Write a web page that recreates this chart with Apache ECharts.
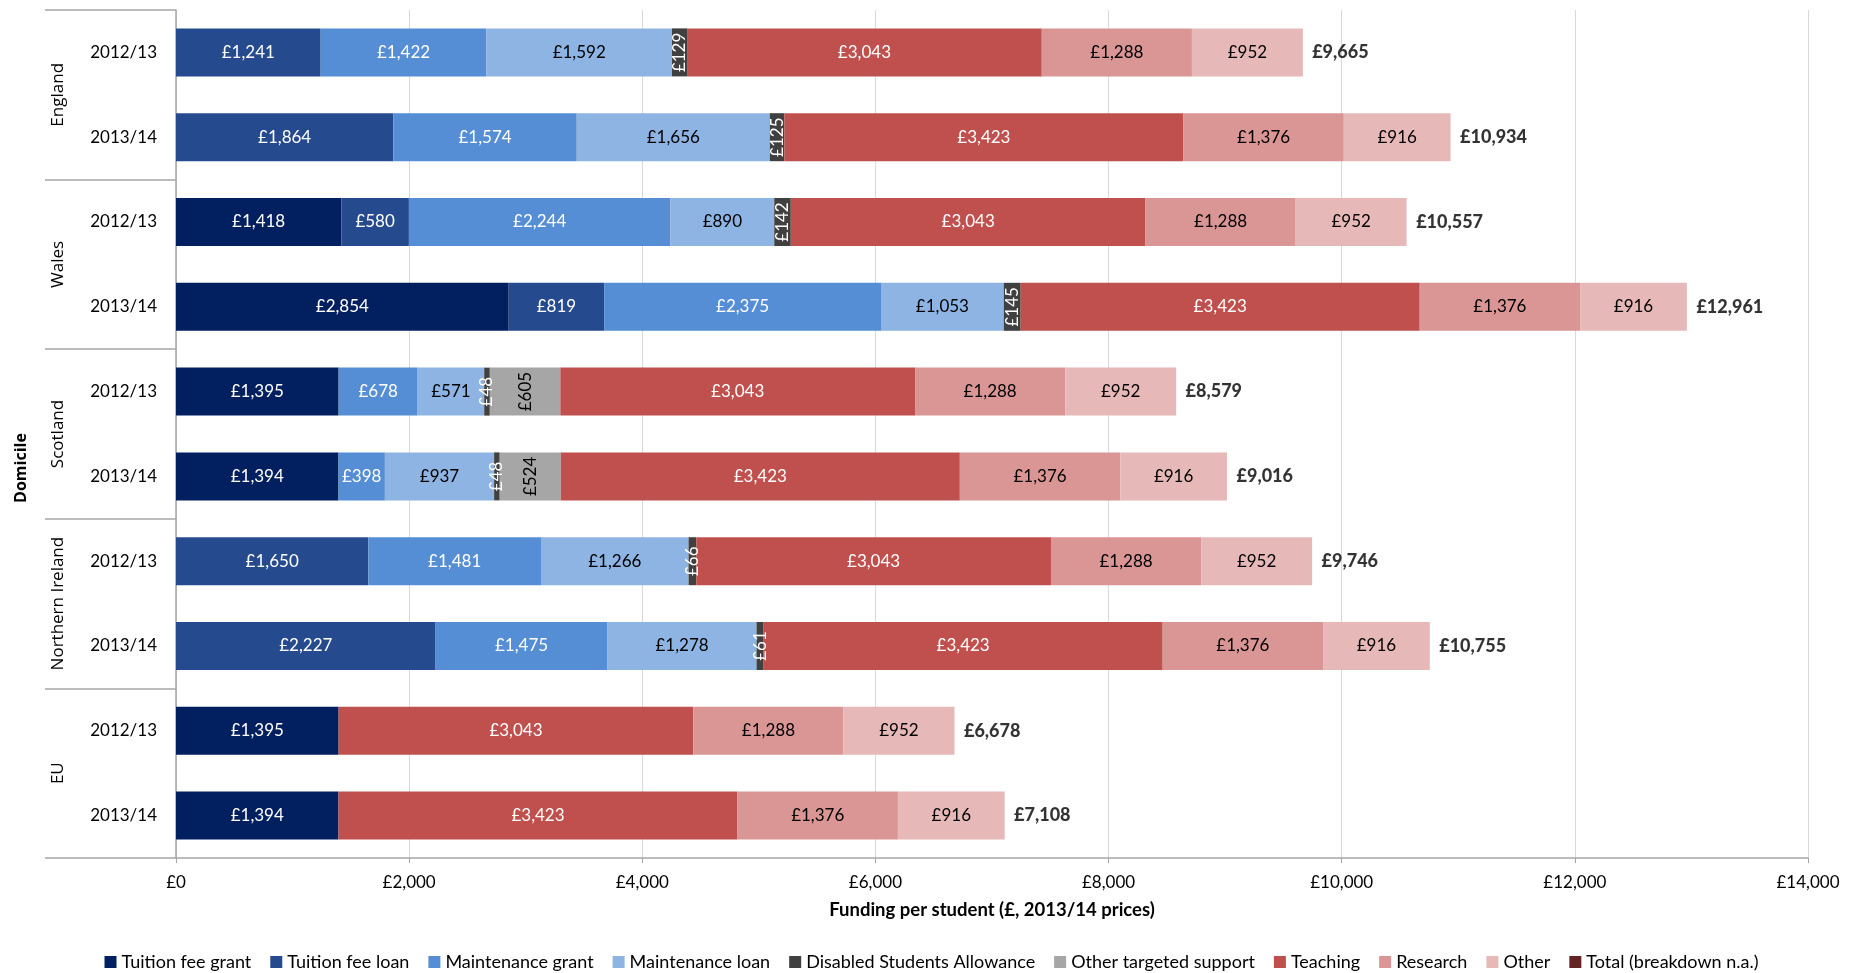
<!DOCTYPE html>
<html>
<head>
<meta charset="utf-8">
<title>Funding per student by domicile</title>
<script src="https://cdn.jsdelivr.net/npm/echarts@6/dist/echarts.min.js"></script>
<style>
  html, body { margin: 0; padding: 0; background: #ffffff; }
  #chart { width: 1863px; height: 973px; }
</style>
</head>
<body>
<div id="chart"></div>
<script>
// Rows run top to bottom: each domicile has a 2012/13 and a 2013/14 bar.
const domiciles = ['England', 'Wales', 'Scotland', 'Northern Ireland', 'EU'];
const years = ['2012/13', '2013/14'];

// Funding components per student (£, 2013/14 prices), one value per row.
const tuitionFeeGrant      = [null, null, 1418, 2854, 1395, 1394, null, null, 1395, 1394];
const tuitionFeeLoan       = [1241, 1864, 580, 819, null, null, 1650, 2227, null, null];
const maintenanceGrant     = [1422, 1574, 2244, 2375, 678, 398, 1481, 1475, null, null];
const maintenanceLoan      = [1592, 1656, 890, 1053, 571, 937, 1266, 1278, null, null];
const disabledStudents     = [129, 125, 142, 145, 48, 48, 66, 61, null, null];
const otherTargeted        = [null, null, null, null, 605, 524, null, null, null, null];
const teaching             = [3043, 3423, 3043, 3423, 3043, 3423, 3043, 3423, 3043, 3423];
const research             = [1288, 1376, 1288, 1376, 1288, 1376, 1288, 1376, 1288, 1376];
const otherFunding         = [952, 916, 952, 916, 952, 916, 952, 916, 952, 916];
const totalBreakdownNA     = [null, null, null, null, null, null, null, null, null, null];
const totals               = [9665, 10934, 10557, 12961, 8579, 9016, 9746, 10755, 6678, 7108];

// Value axis range
const axisMin = 0;
const axisMax = 14000;
const axisStep = 2000;

const rowKeys = [];
domiciles.forEach(d => years.forEach(y => rowKeys.push(d + '|' + y)));

const FONT = 'Lato, "Open Sans", sans-serif';
const money = v => '£' + Number(v).toLocaleString('en-GB');

function barSeries(name, data, color, labelColor, rotated) {
  return {
    name: name,
    type: 'bar',
    stack: 'funding',
    data: data,
    barWidth: 48,
    itemStyle: { color: color },
    label: {
      show: true,
      position: 'inside',
      rotate: rotated ? 90 : 0,
      align: 'center',
      verticalAlign: 'middle',
      color: labelColor,
      fontFamily: FONT,
      fontSize: 17,
      formatter: p => (p.value == null ? '' : money(p.value))
    },
    emphasis: { disabled: true }
  };
}

const series = [
  barSeries('Tuition fee grant', tuitionFeeGrant, '#022060', '#ffffff'),
  barSeries('Tuition fee loan', tuitionFeeLoan, '#264A8E', '#ffffff'),
  barSeries('Maintenance grant', maintenanceGrant, '#558ED5', '#ffffff'),
  barSeries('Maintenance loan', maintenanceLoan, '#8EB4E3', '#000000'),
  barSeries('Disabled Students Allowance', disabledStudents, '#404040', '#ffffff', true),
  barSeries('Other targeted support', otherTargeted, '#A6A6A6', '#000000', true),
  barSeries('Teaching', teaching, '#C0504D', '#ffffff'),
  barSeries('Research', research, '#D99694', '#000000'),
  barSeries('Other', otherFunding, '#E6B9B8', '#000000'),
  barSeries('Total (breakdown n.a.)', totalBreakdownNA, '#632523', '#ffffff'),
  {
    name: 'totals',
    type: 'scatter',
    data: totals.map((t, i) => [t, i]),
    symbol: 'circle',
    symbolSize: 1,
    itemStyle: { color: 'rgba(0,0,0,0)' },
    silent: true,
    z: 10,
    label: {
      show: true,
      position: 'right',
      distance: 9,
      color: '#000000',
      fontFamily: FONT,
      fontSize: 18,
      fontWeight: 900,
      formatter: p => money(p.value[0])
    }
  }
];

const chart = echarts.init(document.getElementById('chart'), null, { renderer: 'canvas' });

chart.setOption({
  backgroundColor: '#ffffff',
  animation: false,
  textStyle: { fontFamily: FONT },
  grid: { left: 176, right: 55, top: 10, bottom: 115, containLabel: false },
  graphic: [
    {
      type: 'text',
      x: 21,
      y: 468,
      rotation: Math.PI / 2,
      style: {
        text: 'Domicile',
        align: 'center',
        verticalAlign: 'middle',
        fill: '#000000',
        font: 'bold 16px "Open Sans", sans-serif'
      }
    }
  ],
  legend: {
    data: series.slice(0, 10).map(s => s.name),
    left: 'center',
    top: 948,
    icon: 'rect',
    itemWidth: 12,
    itemHeight: 12,
    itemGap: 19,
    textStyle: { fontFamily: FONT, fontSize: 18, color: '#000000' },
    selectedMode: false
  },
  xAxis: {
    type: 'value',
    min: axisMin,
    max: axisMax,
    interval: axisStep,
    name: 'Funding per student (£, 2013/14 prices)',
    nameLocation: 'middle',
    nameGap: 43,
    nameTextStyle: { fontFamily: FONT, fontSize: 18.5, fontWeight: 'bold', color: '#000000' },
    axisLine: { show: true, lineStyle: { color: '#A6A6A6', width: 1.5 } },
    axisTick: { show: true, length: 5, lineStyle: { color: '#A6A6A6' } },
    axisLabel: { margin: 16, fontFamily: FONT, fontSize: 17, color: '#000000', formatter: v => money(v) },
    splitLine: { show: true, lineStyle: { color: '#D9D9D9', width: 1 } }
  },
  yAxis: [
    {
      type: 'category',
      data: rowKeys,
      inverse: true,
      position: 'left',
      axisLine: { show: true, lineStyle: { color: '#A6A6A6', width: 1.5 } },
      axisTick: { show: false },
      axisLabel: {
        margin: 19, fontFamily: FONT, fontSize: 17, color: '#000000',
        formatter: v => v.split('|')[1]
      },
      splitLine: { show: false }
    },
    {
      type: 'category',
      data: domiciles,
      inverse: true,
      position: 'left',
      offset: 0,
      axisLine: { show: false },
      axisTick: { show: true, interval: 0, length: 131, lineStyle: { color: '#A6A6A6', width: 1.5 } },
      axisLabel: {
        interval: 0, rotate: 90, margin: 109,
        fontFamily: '"Open Sans", sans-serif', fontSize: 17, color: '#000000'
      },
      splitLine: { show: false }
    }
  ],
  series: series
});
</script>
</body>
</html>
